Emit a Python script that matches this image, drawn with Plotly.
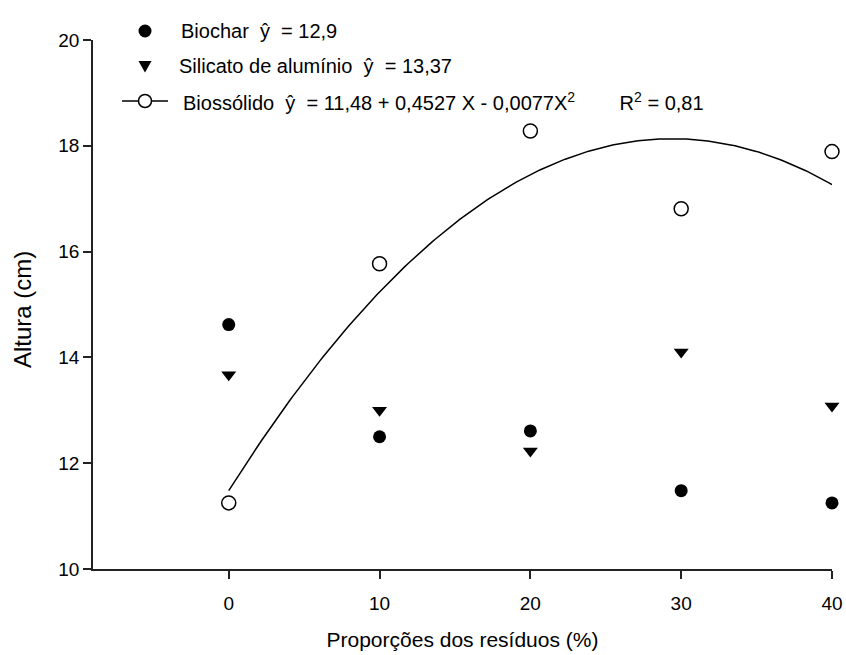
import numpy as np
import plotly.graph_objects as go

# Data
proporcoes = [0, 10, 20, 30, 40]
biochar = [14.62, 12.50, 12.61, 11.48, 11.25]
silicato = [13.67, 13.00, 12.23, 14.10, 13.08]
biossolido = [11.25, 15.77, 18.28, 16.81, 17.89]

# Fitted model for Biossólido (coefficients from the legend)
b0, b1, b2 = 11.48, 0.4527, -0.0077
x_fit = np.linspace(0, 40, 200)
y_fit = b0 + b1 * x_fit + b2 * x_fit ** 2

x_ticks = [0, 10, 20, 30, 40]
y_ticks = [10, 12, 14, 16, 18, 20]

legend_labels = [
    "Biochar  y\u0302  = 12,9",
    "Silicato de alumínio  y\u0302  = 13,37",
    "Biossólido  y\u0302  = 11,48 + 0,4527 X - 0,0077X<sup>2</sup>        R<sup>2</sup> = 0,81",
]
x_title = "Proporções dos resíduos (%)"
y_title = "Altura (cm)"

FONT = "Liberation Sans, Arial, sans-serif"

# plot area geometry (pixels)
W, H = 846, 655
L, R, T, B = 93, 14, 40, 86
PW, PH = W - L - R, H - T - B


def px(x):
    return (x - L) / PW


def py(y):
    return (H - B - y) / PH


fig = go.Figure()

fig.add_trace(go.Scatter(
    x=proporcoes, y=biochar, mode="markers", name=legend_labels[0],
    marker=dict(symbol="circle", size=13, color="black", line=dict(width=0)),
    cliponaxis=False, showlegend=False,
))
fig.add_trace(go.Scatter(
    x=proporcoes, y=silicato, mode="markers", name=legend_labels[1],
    marker=dict(symbol="triangle-down", size=13, color="black", line=dict(width=0)),
    cliponaxis=False, showlegend=False,
))
fig.add_trace(go.Scatter(
    x=x_fit, y=y_fit, mode="lines", showlegend=False,
    line=dict(color="black", width=1.5), hoverinfo="skip",
))
fig.add_trace(go.Scatter(
    x=proporcoes, y=biossolido, mode="markers", name=legend_labels[2],
    marker=dict(symbol="circle-open", size=14, color="black", line=dict(width=1.5)),
    cliponaxis=False, showlegend=False,
))

# manual legend
rows_y = [31, 66, 101]
sym_x = 145
text_x = [179, 177, 181]
shapes = []
annotations = []
for i, lab in enumerate(legend_labels):
    annotations.append(dict(
        x=px(text_x[i]), y=py(rows_y[i]), xref="paper", yref="paper",
        text=lab, showarrow=False, xanchor="left", yanchor="middle",
        font=dict(family=FONT, size=20, color="black"),
    ))
# y axis title
annotations.append(dict(
    x=px(22), y=py(310), xref="paper", yref="paper", text=y_title,
    textangle=-90, showarrow=False, xanchor="center", yanchor="middle",
    font=dict(family=FONT, size=24, color="black"),
))
# filled circle
shapes.append(dict(type="circle", xref="paper", yref="paper",
                   xsizemode="pixel", ysizemode="pixel",
                   xanchor=px(sym_x), yanchor=py(rows_y[0]),
                   x0=-6.5, x1=6.5, y0=-6.5, y1=6.5,
                   fillcolor="black", line=dict(width=0)))
# triangle down
shapes.append(dict(type="path", xref="paper", yref="paper",
                   xsizemode="pixel", ysizemode="pixel",
                   xanchor=px(sym_x), yanchor=py(rows_y[1]),
                   path="M -6.5 5 L 6.5 5 L 0 -6.5 Z",
                   fillcolor="black", line=dict(width=0)))
# line + open circle
shapes.append(dict(type="line", xref="paper", yref="paper",
                   x0=px(122), x1=px(168), y0=py(rows_y[2]), y1=py(rows_y[2]),
                   line=dict(color="black", width=1.5)))
shapes.append(dict(type="circle", xref="paper", yref="paper",
                   xsizemode="pixel", ysizemode="pixel",
                   xanchor=px(sym_x), yanchor=py(rows_y[2]),
                   x0=-6.5, x1=6.5, y0=-6.5, y1=6.5,
                   fillcolor="white", line=dict(color="black", width=1.5)))

axis_common = dict(
    showgrid=False, zeroline=False, showline=True, linecolor="#222", linewidth=1.5,
    ticks="outside", ticklen=8, tickwidth=1.5, tickcolor="#222",
    tickfont=dict(family=FONT, size=19, color="black"),
    mirror=False,
)

fig.update_layout(
    width=W, height=H,
    margin=dict(l=L, r=R, t=T, b=B, autoexpand=False),
    plot_bgcolor="white", paper_bgcolor="white",
    font=dict(family=FONT, color="black"),
    xaxis=dict(range=[-9, 40], tickvals=x_ticks, ticklabelstandoff=8,
               title=dict(text=x_title, font=dict(size=21), standoff=20),
               **axis_common),
    yaxis=dict(range=[10, 20], tickvals=y_ticks, **axis_common),
    shapes=shapes,
    annotations=annotations,
    showlegend=False,
)

fig.write_html("out.html")
